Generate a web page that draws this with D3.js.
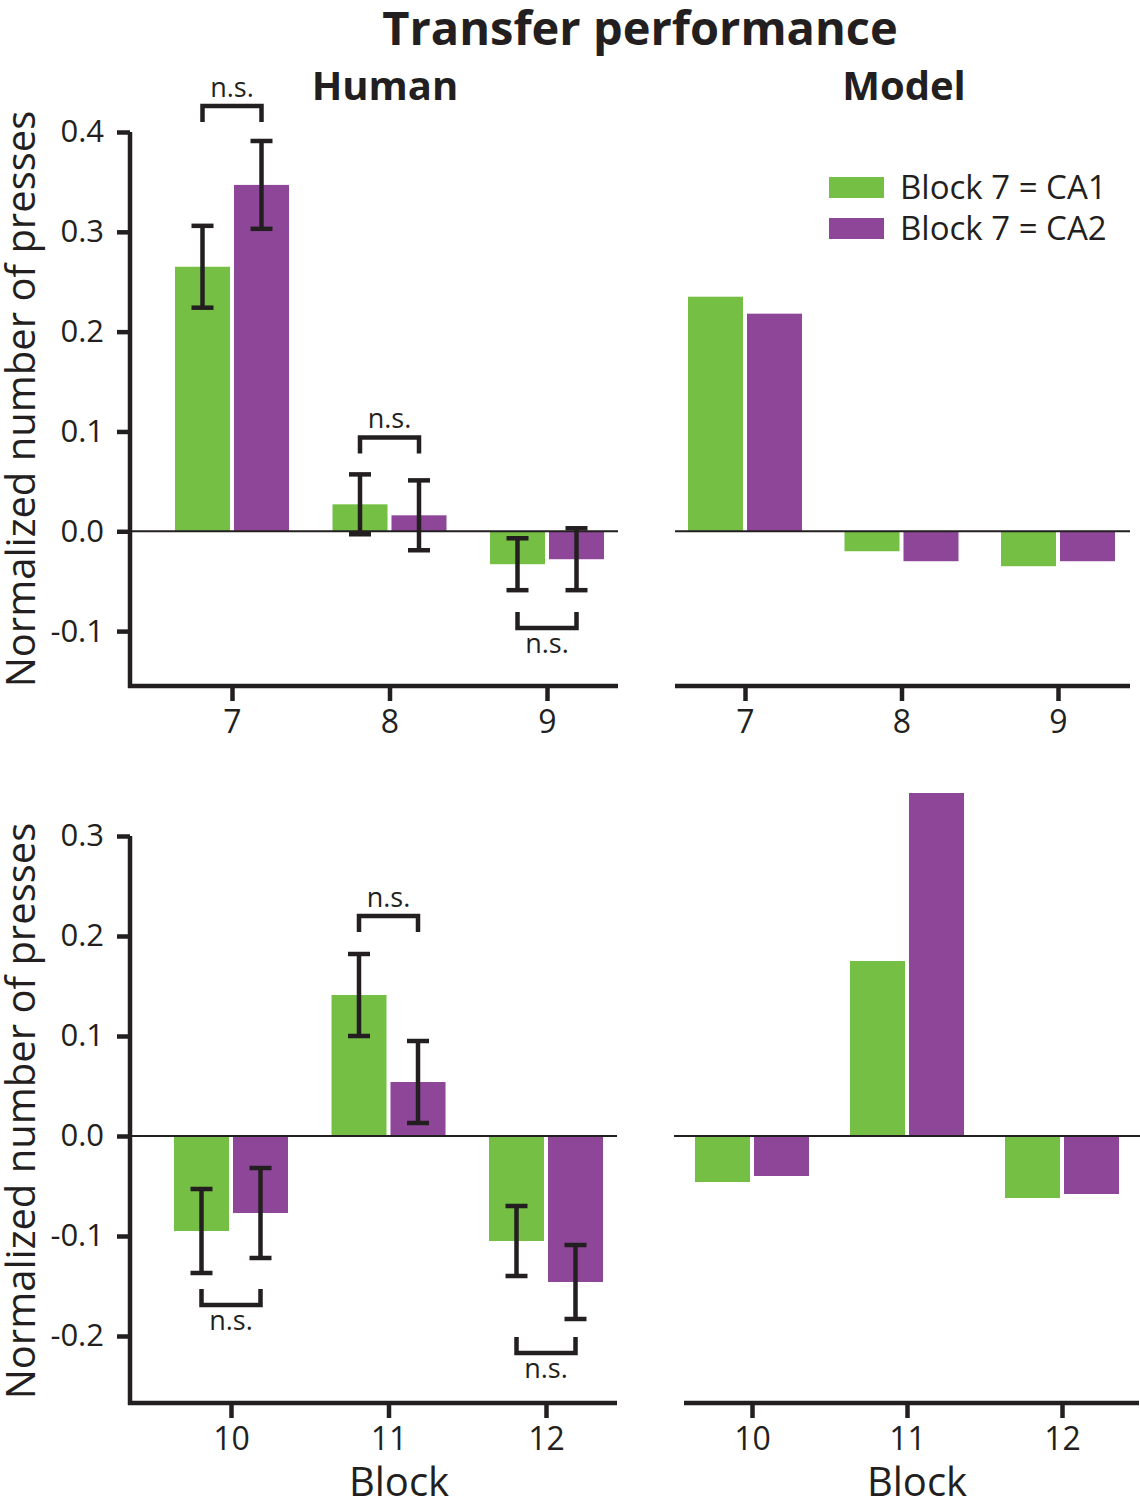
<!DOCTYPE html>
<html>
<head>
<meta charset="utf-8">
<script src="https://cdn.jsdelivr.net/npm/d3@7"></script>
<style>
  html, body { margin: 0; padding: 0; background: #fff; }
  text { font-family: "Open Sans", "Noto Sans", sans-serif; fill: #231f20; }
</style>
</head>
<body>
<script>
// ---------------- data ----------------
const blocksTop = ["7", "8", "9"];
const blocksBottom = ["10", "11", "12"];

const humanTopCA1 = [0.265, 0.027, -0.033];
const humanTopCA2 = [0.347, 0.016, -0.028];
const humanTopCA1Err = [0.041, 0.030, 0.026];
const humanTopCA2Err = [0.044, 0.035, 0.031];

const modelTopCA1 = [0.235, -0.020, -0.035];
const modelTopCA2 = [0.218, -0.030, -0.030];

const humanBotCA1 = [-0.095, 0.141, -0.105];
const humanBotCA2 = [-0.077, 0.054, -0.146];
const humanBotCA1Err = [0.042, 0.041, 0.035];
const humanBotCA2Err = [0.045, 0.041, 0.037];

const modelBotCA1 = [-0.046, 0.175, -0.062];
const modelBotCA2 = [-0.040, 0.343, -0.058];

// significance brackets: level (data units) and direction
const bracketsTop = [
  { i: 0, level: 0.426, dir: "up" },
  { i: 1, level: 0.094, dir: "up" },
  { i: 2, level: -0.097, dir: "down" }
];
const bracketsBottom = [
  { i: 0, level: -0.169, dir: "down" },
  { i: 1, level: 0.220, dir: "up" },
  { i: 2, level: -0.217, dir: "down" }
];

const yTicksTop = [0.4, 0.3, 0.2, 0.1, 0.0, -0.1];
const yTicksBottom = [0.3, 0.2, 0.1, 0.0, -0.1, -0.2];

const seriesNames = ["Block 7 = CA1", "Block 7 = CA2"];
const colors = ["#74bf44", "#8e4798"];
const ink = "#231f20";

// ---------------- layout ----------------
const W = 1140, H = 1500;
const svg = d3.select("body").append("svg").attr("width", W).attr("height", H);

const yTop = d3.scaleLinear().domain([-0.155, 0.4]).range([686, 132]);
const yBot = d3.scaleLinear().domain([-0.267, 0.3]).range([1403, 836]);

const barW = 55, barGap = 4;

const panels = [
  { cats: blocksTop, s1: humanTopCA1, s2: humanTopCA2, e1: humanTopCA1Err, e2: humanTopCA2Err,
    brackets: bracketsTop, y: yTop, yTicks: yTicksTop, xRange: [232, 547], axisX: [128, 618], zeroX: [130, 618], yAxisX: 130 },
  { cats: blocksTop, s1: modelTopCA1, s2: modelTopCA2,
    y: yTop, xRange: [745, 1058], axisX: [675, 1130], zeroX: [675, 1130] },
  { cats: blocksBottom, s1: humanBotCA1, s2: humanBotCA2, e1: humanBotCA1Err, e2: humanBotCA2Err,
    brackets: bracketsBottom, y: yBot, yTicks: yTicksBottom, xRange: [231, 546], axisX: [128, 617], zeroX: [130, 617], yAxisX: 130 },
  { cats: blocksBottom, s1: modelBotCA1, s2: modelBotCA2,
    y: yBot, xRange: [752, 1062], axisX: [684, 1139], zeroX: [674, 1140] }
];

panels.forEach(p => {
  const g = svg.append("g");
  const x = d3.scalePoint().domain(p.cats).range(p.xRange);
  const y = p.y;
  const base = y.range()[0];

  const series = [p.s1, p.s2];
  const errs = [p.e1, p.e2];
  const offs = [-(barGap / 2 + barW / 2), (barGap / 2 + barW / 2)];

  // bars
  series.forEach((vals, si) => {
    g.selectAll(null).data(vals).enter().append("rect")
      .attr("x", (d, i) => x(p.cats[i]) + offs[si] - barW / 2)
      .attr("width", barW)
      .attr("y", d => Math.min(y(d), y(0)))
      .attr("height", d => Math.abs(y(d) - y(0)))
      .attr("fill", colors[si]);
  });

  // zero line
  g.append("line")
    .attr("x1", p.zeroX[0]).attr("x2", p.zeroX[1])
    .attr("y1", y(0)).attr("y2", y(0))
    .attr("stroke", ink).attr("stroke-width", 2);

  // error bars
  if (p.e1) {
    series.forEach((vals, si) => {
      vals.forEach((v, i) => {
        const cx = x(p.cats[i]) + offs[si];
        const e = errs[si][i];
        const eg = g.append("g").attr("stroke", ink).attr("stroke-width", 4.5);
        eg.append("line").attr("x1", cx).attr("x2", cx).attr("y1", y(v + e)).attr("y2", y(v - e));
        eg.append("line").attr("x1", cx - 11).attr("x2", cx + 11).attr("y1", y(v + e)).attr("y2", y(v + e));
        eg.append("line").attr("x1", cx - 11).attr("x2", cx + 11).attr("y1", y(v - e)).attr("y2", y(v - e));
      });
    });
  }

  // brackets
  if (p.brackets) {
    p.brackets.forEach(b => {
      const cx = x(p.cats[b.i]);
      const xa = cx + offs[0], xb = cx + offs[1];
      const ly = y(b.level);
      const leg = b.dir === "up" ? 16 : -16;
      g.append("path")
        .attr("d", `M${xa},${ly + leg}V${ly}H${xb}V${ly + leg}`)
        .attr("fill", "none").attr("stroke", ink).attr("stroke-width", 4.5);
      g.append("text")
        .attr("x", cx).attr("y", b.dir === "up" ? ly - 9 : ly + 25)
        .attr("text-anchor", "middle")
        .style("font-size", "27px")
        .text("n.s.");
    });
  }

  // x axis baseline
  g.append("line")
    .attr("x1", p.axisX[0]).attr("x2", p.axisX[1])
    .attr("y1", base).attr("y2", base)
    .attr("stroke", ink).attr("stroke-width", 4.5);

  // x ticks
  const xa = g.append("g").attr("transform", `translate(0,${base})`)
    .call(d3.axisBottom(x).tickSize(15).tickSizeOuter(0).tickPadding(9));
  xa.select(".domain").remove();
  xa.selectAll(".tick line").attr("stroke", ink).attr("stroke-width", 4.5);
  xa.selectAll(".tick text").style("font-size", "32px").style("font-family", null).attr("fill", ink);

  // y axis
  if (p.yTicks) {
    const ya = g.append("g").attr("transform", `translate(${p.yAxisX},0)`)
      .call(d3.axisLeft(y).tickValues(p.yTicks).tickSize(13).tickSizeOuter(0).tickPadding(13)
        .tickFormat(d => d.toFixed(1)));
    ya.select(".domain").attr("stroke", ink).attr("stroke-width", 4.5)
      .attr("d", `M0,${y(p.yTicks[0])}V${base + 2}`);
    ya.selectAll(".tick line").attr("stroke", ink).attr("stroke-width", 4.5);
    ya.selectAll(".tick text").style("font-size", "31px").style("font-family", null).attr("fill", ink);
  }
});

// ---------------- titles & labels ----------------
svg.append("text").attr("x", 640).attr("y", 45).attr("text-anchor", "middle")
  .style("font-size", "47px").style("font-weight", "bold").text("Transfer performance");
svg.append("text").attr("x", 385).attr("y", 100).attr("text-anchor", "middle")
  .style("font-size", "40px").style("font-weight", "bold").text("Human");
svg.append("text").attr("x", 904).attr("y", 100).attr("text-anchor", "middle")
  .style("font-size", "40px").style("font-weight", "bold").text("Model");

[399, 1111].forEach(cy => {
  svg.append("text")
    .attr("transform", `translate(35,${cy}) rotate(-90)`)
    .attr("text-anchor", "middle")
    .style("font-size", "40px")
    .text("Normalized number of presses");
});

[399, 917].forEach(cx => {
  svg.append("text").attr("x", cx).attr("y", 1496).attr("text-anchor", "middle")
    .style("font-size", "40px").text("Block");
});

// ---------------- legend ----------------
const leg = svg.append("g").attr("transform", "translate(829,177)");
seriesNames.forEach((name, i) => {
  leg.append("rect").attr("x", 0).attr("y", i * 41).attr("width", 55).attr("height", 21).attr("fill", colors[i]);
  leg.append("text").attr("x", 71).attr("y", i * 41 + 10.5).attr("dy", "0.36em")
    .style("font-size", "33px").text(name);
});
</script>
</body>
</html>
